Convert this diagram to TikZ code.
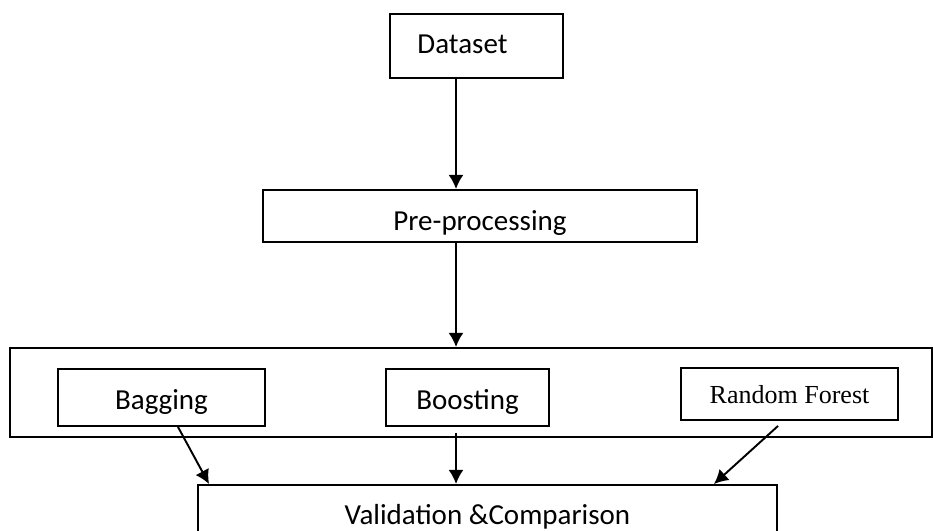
\documentclass[tikz,border=0pt]{standalone}
\usepackage{fontspec}
\setmainfont{Carlito}
\newfontfamily\rffont{Liberation Serif}
\usepackage{tikz}
\usetikzlibrary{arrows.meta, positioning, calc}

\begin{document}
\begin{tikzpicture}[
    every node/.style={font=\fontsize{16.5}{20}\selectfont},
    box/.style={draw, line width=1.1pt, inner sep=0pt, text height=0.82cm, text depth=0.32cm},
    groupbox/.style={draw, line width=1.1pt, inner sep=0pt},
    flow/.style={line width=1.1pt, -{Latex[length=8pt,width=8.5pt]}}
  ]
  \useasboundingbox (0,0) rectangle (18.66,10.6);
  \clip (0,0) rectangle (18.66,10.6);

  % Top
  \node[box, minimum width=3.46cm, text height=0.8cm, text depth=0.48cm] (data) at (9.53,9.68) {Dataset\hspace*{0.56cm}};
  \node[box, minimum width=8.68cm, text depth=0.22cm] (prep) at (9.6,6.28) {Pre-processing};

  % Methods
  \node[groupbox, minimum width=18.44cm, minimum height=1.78cm] (methods) at (9.42,2.75) {};
  \node[box, minimum width=4.14cm] (bag) at (3.23,2.65) {Bagging};
  \node[box, minimum width=3.26cm] (boost) at (9.35,2.65) {Boosting};
  \node[box, minimum width=4.34cm, text height=0.72cm, font=\rffont\fontsize{14.8}{18}\selectfont] (rf) at (15.79,2.72) {Random Forest};

  % Bottom
  \node[box, minimum width=11.58cm, text height=0.78cm, text depth=0.44cm] (valid) at (9.75,0.29) {Validation \&Comparison};

  % Arrows
  \draw[flow] ([xshift=-0.41cm]data.south) -- ([xshift=-0.41cm]data.south |- prep.north);
  \draw[flow] ([xshift=-0.48cm]prep.south) -- ([xshift=-0.48cm]prep.south |- methods.north);
  \draw[flow] ([xshift=0.33cm]bag.south) -- ([xshift=0.24cm]valid.north west);
  \draw[flow] ([xshift=-0.23cm, yshift=-0.12cm]boost.south) -- ([xshift=-0.23cm]boost.south |- valid.north);
  \draw[flow] ([xshift=-0.23cm, yshift=-0.1cm]rf.south) -- ([xshift=-1.28cm]valid.north east);
\end{tikzpicture}
\end{document}
